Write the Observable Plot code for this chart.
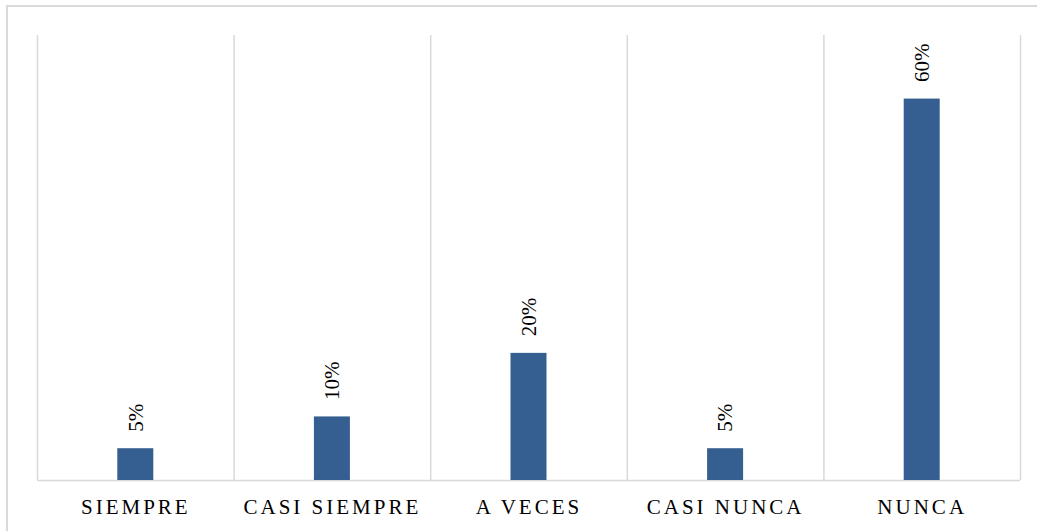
<!DOCTYPE html>
<html>
<head>
<meta charset="utf-8">
<script src="https://cdn.jsdelivr.net/npm/d3@7"></script>
<script src="https://cdn.jsdelivr.net/npm/@observablehq/plot@0.6"></script>
<style>
  html, body { margin: 0; padding: 0; background: #fff; overflow: hidden; }
  #wrap { position: relative; width: 1037px; height: 531px; }
  #border { position: absolute; left: 6px; top: 5px; width: 1100px; height: 600px;
            border: 2px solid #d9d9d9; pointer-events: none; }
  svg { display: block; }
  svg text { font-family: 'Liberation Serif', 'Times New Roman', serif !important; }
</style>
</head>
<body>
<div id="wrap"><div id="chart"></div><div id="border"></div></div>
<script>
const categories = ["SIEMPRE", "CASI SIEMPRE", "A VECES", "CASI NUNCA", "NUNCA"];
const values = [5, 10, 20, 5, 60];
const valueLabels = ["5%", "10%", "20%", "5%", "60%"];

const data = categories.map((c, i) => ({cat: c, idx: i, value: values[i], label: valueLabels[i]}));
const bounds = d3.range(categories.length + 1);
const serif = "'Liberation Serif', 'Times New Roman', serif";

const chart = Plot.plot({
  width: 1037,
  height: 531,
  marginLeft: 37,
  marginRight: 17,
  marginTop: 35,
  marginBottom: 51,
  style: {fontFamily: serif, background: "transparent"},
  x: {type: "linear", domain: [0, categories.length], axis: null},
  y: {domain: [0, 70], axis: null},
  marks: [
    Plot.ruleX(bounds, {x: d => d, y1: 0, y2: 70, stroke: "#d9d9d9", strokeWidth: 1.5}),
    Plot.ruleY([0], {stroke: "#d9d9d9", strokeWidth: 1.5}),
    Plot.rectY(data, {x1: d => d.idx, x2: d => d.idx + 1, y: "value", fill: "#365f91", insetLeft: 80.3, insetRight: 80.3}),
    Plot.text(data, {x: d => d.idx + 0.5, y: "value", text: "label", rotate: -90, textAnchor: "start",
      lineAnchor: "middle", dy: -17, fontSize: 21, fontFamily: serif, fill: "#000"}),
    Plot.text(data, {x: d => d.idx + 0.5, y: 0, text: "cat", lineAnchor: "bottom", dy: 33, fontSize: 21,
      fontFamily: serif, fill: "#000", dx: 0})
  ]
});
chart.querySelectorAll("text").forEach(t => {
  if (categories.includes(t.textContent)) t.style.letterSpacing = "3px";
});
document.getElementById("chart").appendChild(chart);
</script>
</body>
</html>
